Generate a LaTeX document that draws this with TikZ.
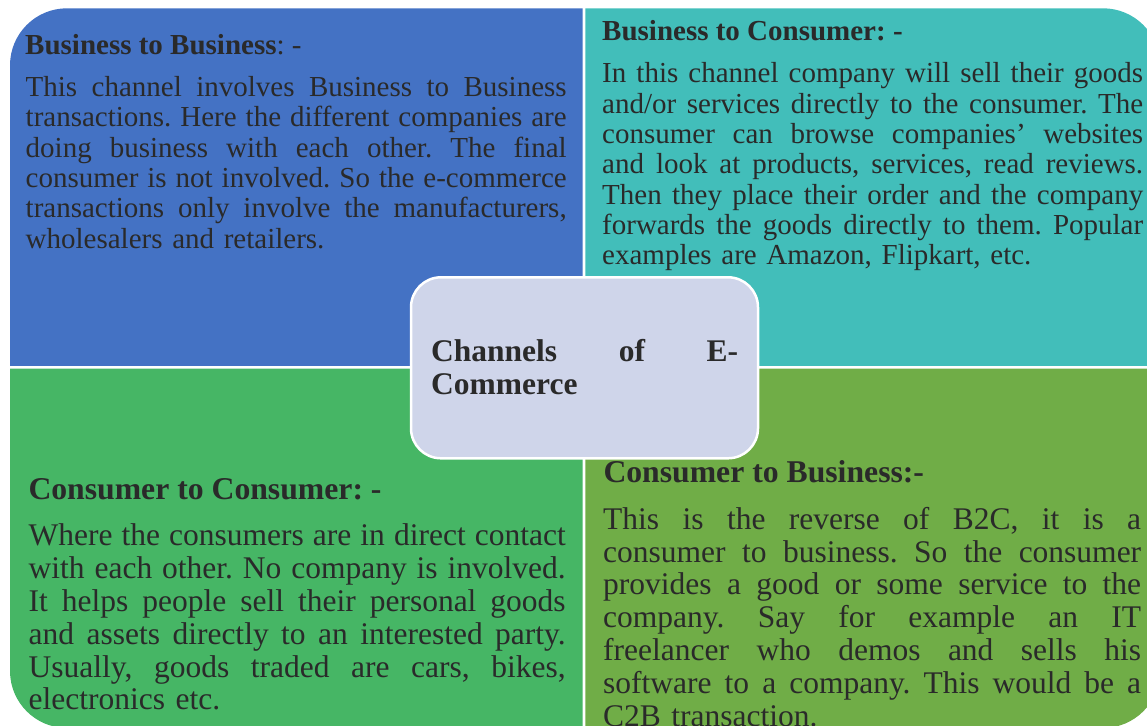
\documentclass[tikz,border=0pt]{standalone}
\usepackage{fontspec}
\setmainfont{Liberation Serif}
\frenchspacing
\definecolor{qblue}{HTML}{4472C4}
\definecolor{qteal}{HTML}{42BEBA}
\definecolor{qgreen}{HTML}{46B665}
\definecolor{qolive}{HTML}{70AD47}
\definecolor{hubfill}{HTML}{CFD5EA}
\definecolor{ink}{HTML}{2A2A2A}
% one justified line of a paragraph
\newcommand{\jline}[1]{\leavevmode\hbox to \hsize{\spaceskip=0.25em plus 1em\relax #1}\\}
\begin{document}
\begin{tikzpicture}[x=1pt,y=1pt,
  txt/.style={inner sep=0pt, anchor=base west, text=ink},
  smallbody/.style={txt, align=left, font=\fontsize{29}{30.3}\selectfont},
  bigbody/.style={txt, align=left, font=\fontsize{31.5}{32.9}\selectfont},
  smalltitle/.style={txt, font=\fontsize{29}{30}\selectfont\bfseries},
  bigtitle/.style={txt, font=\fontsize{31.7}{33}\selectfont\bfseries},
  hub/.style={draw=white, line width=2.5pt, fill=hubfill, rounded corners=30pt,
    minimum width=347pt, minimum height=181pt, inner sep=0pt}]
\useasboundingbox (0,0) rectangle (1147,725);
\begin{scope}
\clip (0,0) rectangle (1147,725);
% four quadrants, each with one rounded outer corner
\fill[qblue] (582.7,359) -- (10,359) -- (10,659.7)
  arc[start angle=180, end angle=90, radius=57] -- (582.7,716.7) -- cycle;
\fill[qteal] (585.3,359) -- (585.3,716.7) -- (1103,716.7)
  arc[start angle=90, end angle=0, radius=57] -- (1160,359) -- cycle;
\fill[qgreen] (10,356.3) -- (582.7,356.3) -- (582.7,-3) -- (67,-3)
  arc[start angle=270, end angle=180, radius=57] -- cycle;
\fill[qolive] (585.3,356.3) -- (1160,356.3) -- (1160,54)
  arc[start angle=0, end angle=-90, radius=57] -- (585.3,-3) -- cycle;

% Business to Business
\node[smalltitle] (bbTitle) at (25,670.7) {Business to Business\mdseries: -};
\node[smallbody, text width=541pt] (bbBody) at (25.5,628.3) {%
\jline{This channel involves Business to Business}
\jline{transactions. Here the different companies are}
\jline{doing business with each other. The final}
\jline{consumer is not involved. So the e-commerce}
\jline{transactions only involve the manufacturers,}
wholesalers and retailers.};

% Business to Consumer
\node[smalltitle] (bcTitle) at (602,684.5) {Business to Consumer: -};
\node[smallbody, text width=541pt] (bcBody) at (602,642) {%
\jline{In this channel company will sell their goods}
\jline{and/or services directly to the consumer. The}
\jline{consumer can browse companies’ websites}
\jline{and look at products, services, read reviews.}
\jline{Then they place their order and the company}
\jline{forwards the goods directly to them. Popular}
examples are Amazon, Flipkart, etc.};

% Consumer to Consumer
\node[bigtitle] (ccTitle) at (28.3,225.5) {Consumer to Consumer: -};
\node[bigbody, text width=537pt] (ccBody) at (28.5,179.5) {%
\jline{Where the consumers are in direct contact}
\jline{with each other. No company is involved.}
\jline{It helps people sell their personal goods}
\jline{and assets directly to an interested party.}
\jline{Usually, goods traded are cars, bikes,}
electronics etc.};

% Consumer to Business
\node[bigtitle] (cbTitle) at (603.3,242) {Consumer to Business:-};
\node[bigbody, text width=538pt] (cbBody) at (603,195.8) {%
\jline{This is the reverse of B2C, it is a}
\jline{consumer to business. So the consumer}
\jline{provides a good or some service to the}
\jline{company. Say for example an IT}
\jline{freelancer who demos and sells his}
\jline{software to a company. This would be a}
C2B transaction.};

% central hub
\node[hub] (hubBox) at (584.5,357.2) {};
\node[txt, align=left, text width=307pt, font=\fontsize{31.5}{33.3}\selectfont\bfseries]
  (hubText) at (431,363.3) {%
\jline{Channels of E-}
Commerce};
\end{scope}
\end{tikzpicture}
\end{document}
